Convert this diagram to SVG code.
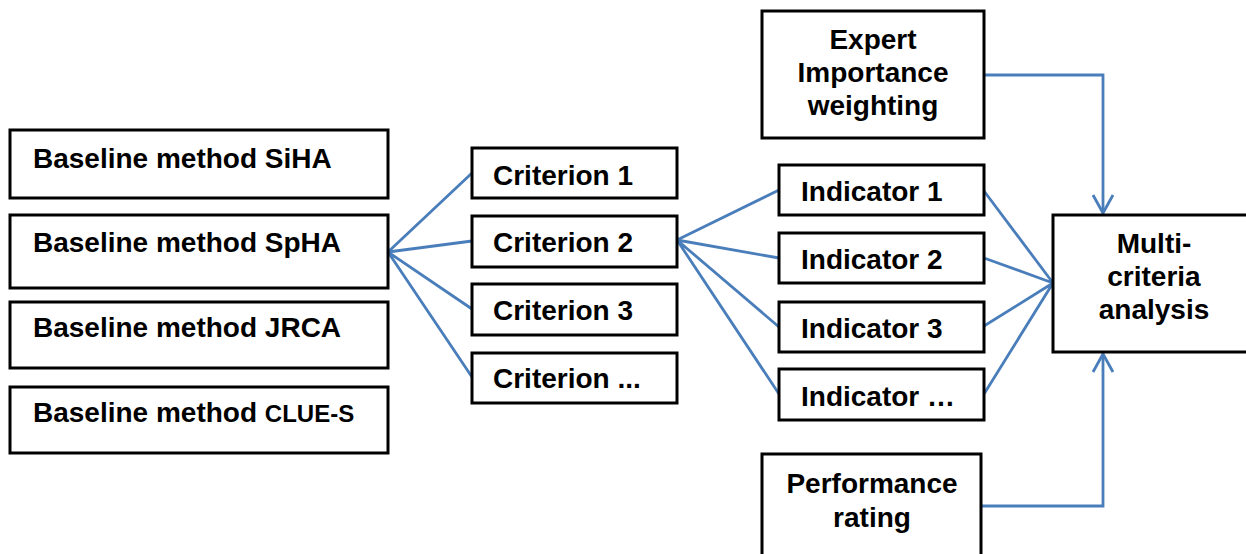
<svg xmlns="http://www.w3.org/2000/svg" width="1246" height="554" viewBox="0 0 1246 554">
<style>
.box{fill:#fff;stroke:#000;stroke-width:3}
.t{font-family:"Liberation Sans",Arial,sans-serif;font-weight:bold;font-size:28px;fill:#000}
.c{text-anchor:middle}
.ln{fill:none;stroke:#4a7ebb;stroke-width:2.8}
.ah{fill:none;stroke:#4a7ebb;stroke-width:2.8}
</style>
<rect width="1246" height="554" fill="#fff"/>
<g id="connectors">
<path class="ln" d="M388 252 L472 173 M388 252 L472 241 M388 252 L472 309 M388 252 L472 377"/>
<path class="ln" d="M677 240 L779 190 M677 240 L779 258 M677 240 L779 327 M677 240 L779 394"/>
<path class="ln" d="M984 191 L1053 283 M984 258 L1053 283 M984 326 L1053 283 M984 394 L1053 283"/>
<path class="ln" d="M984 75 H1103 V213"/>
<path class="ah" d="M1093 195 L1103 213 L1113 195"/>
<path class="ln" d="M981 506 H1103 V354"/>
<path class="ah" d="M1093 372 L1103 354 L1113 372"/>
</g>
<g id="siha"><rect class="box" x="10" y="130" width="378" height="68"/><text class="t" x="33" y="168">Baseline method SiHA</text></g>
<g id="spha"><rect class="box" x="10" y="215" width="378" height="73"/><text class="t" x="33" y="252">Baseline method SpHA</text></g>
<g id="jrca"><rect class="box" x="10" y="302" width="378" height="66"/><text class="t" x="33" y="337">Baseline method JRCA</text></g>
<g id="clues"><rect class="box" x="10" y="387" width="378" height="66"/><text class="t" x="33" y="422">Baseline method <tspan font-size="24">CLUE-S</tspan></text></g>
<g id="crit1"><rect class="box" x="472" y="148" width="205" height="50"/><text class="t" x="493" y="185">Criterion 1</text></g>
<g id="crit2"><rect class="box" x="472" y="216" width="205" height="51"/><text class="t" x="493" y="252">Criterion 2</text></g>
<g id="crit3"><rect class="box" x="472" y="284" width="205" height="51"/><text class="t" x="493" y="320">Criterion 3</text></g>
<g id="critn"><rect class="box" x="472" y="353" width="205" height="50"/><text class="t" x="493" y="388">Criterion ...</text></g>
<g id="expert"><rect class="box" x="762" y="11" width="222" height="127"/><text class="t c" x="873" y="49">Expert</text><text class="t c" x="873" y="82">Importance</text><text class="t c" x="873" y="115">weighting</text></g>
<g id="ind1"><rect class="box" x="779" y="165" width="205" height="50"/><text class="t" x="801" y="201">Indicator 1</text></g>
<g id="ind2"><rect class="box" x="779" y="233" width="205" height="50"/><text class="t" x="801" y="269">Indicator 2</text></g>
<g id="ind3"><rect class="box" x="779" y="302" width="205" height="50"/><text class="t" x="801" y="338">Indicator 3</text></g>
<g id="indn"><rect class="box" x="779" y="369" width="205" height="51"/><text class="t" x="801" y="406">Indicator …</text></g>
<g id="mca"><rect class="box" x="1053" y="215" width="195" height="137"/><text class="t c" x="1154" y="253">Multi-</text><text class="t c" x="1154" y="286">criteria</text><text class="t c" x="1154" y="319">analysis</text></g>
<g id="perf"><rect class="box" x="762" y="454" width="219" height="120"/><text class="t c" x="872" y="493">Performance</text><text class="t c" x="872" y="527">rating</text></g>
</svg>
